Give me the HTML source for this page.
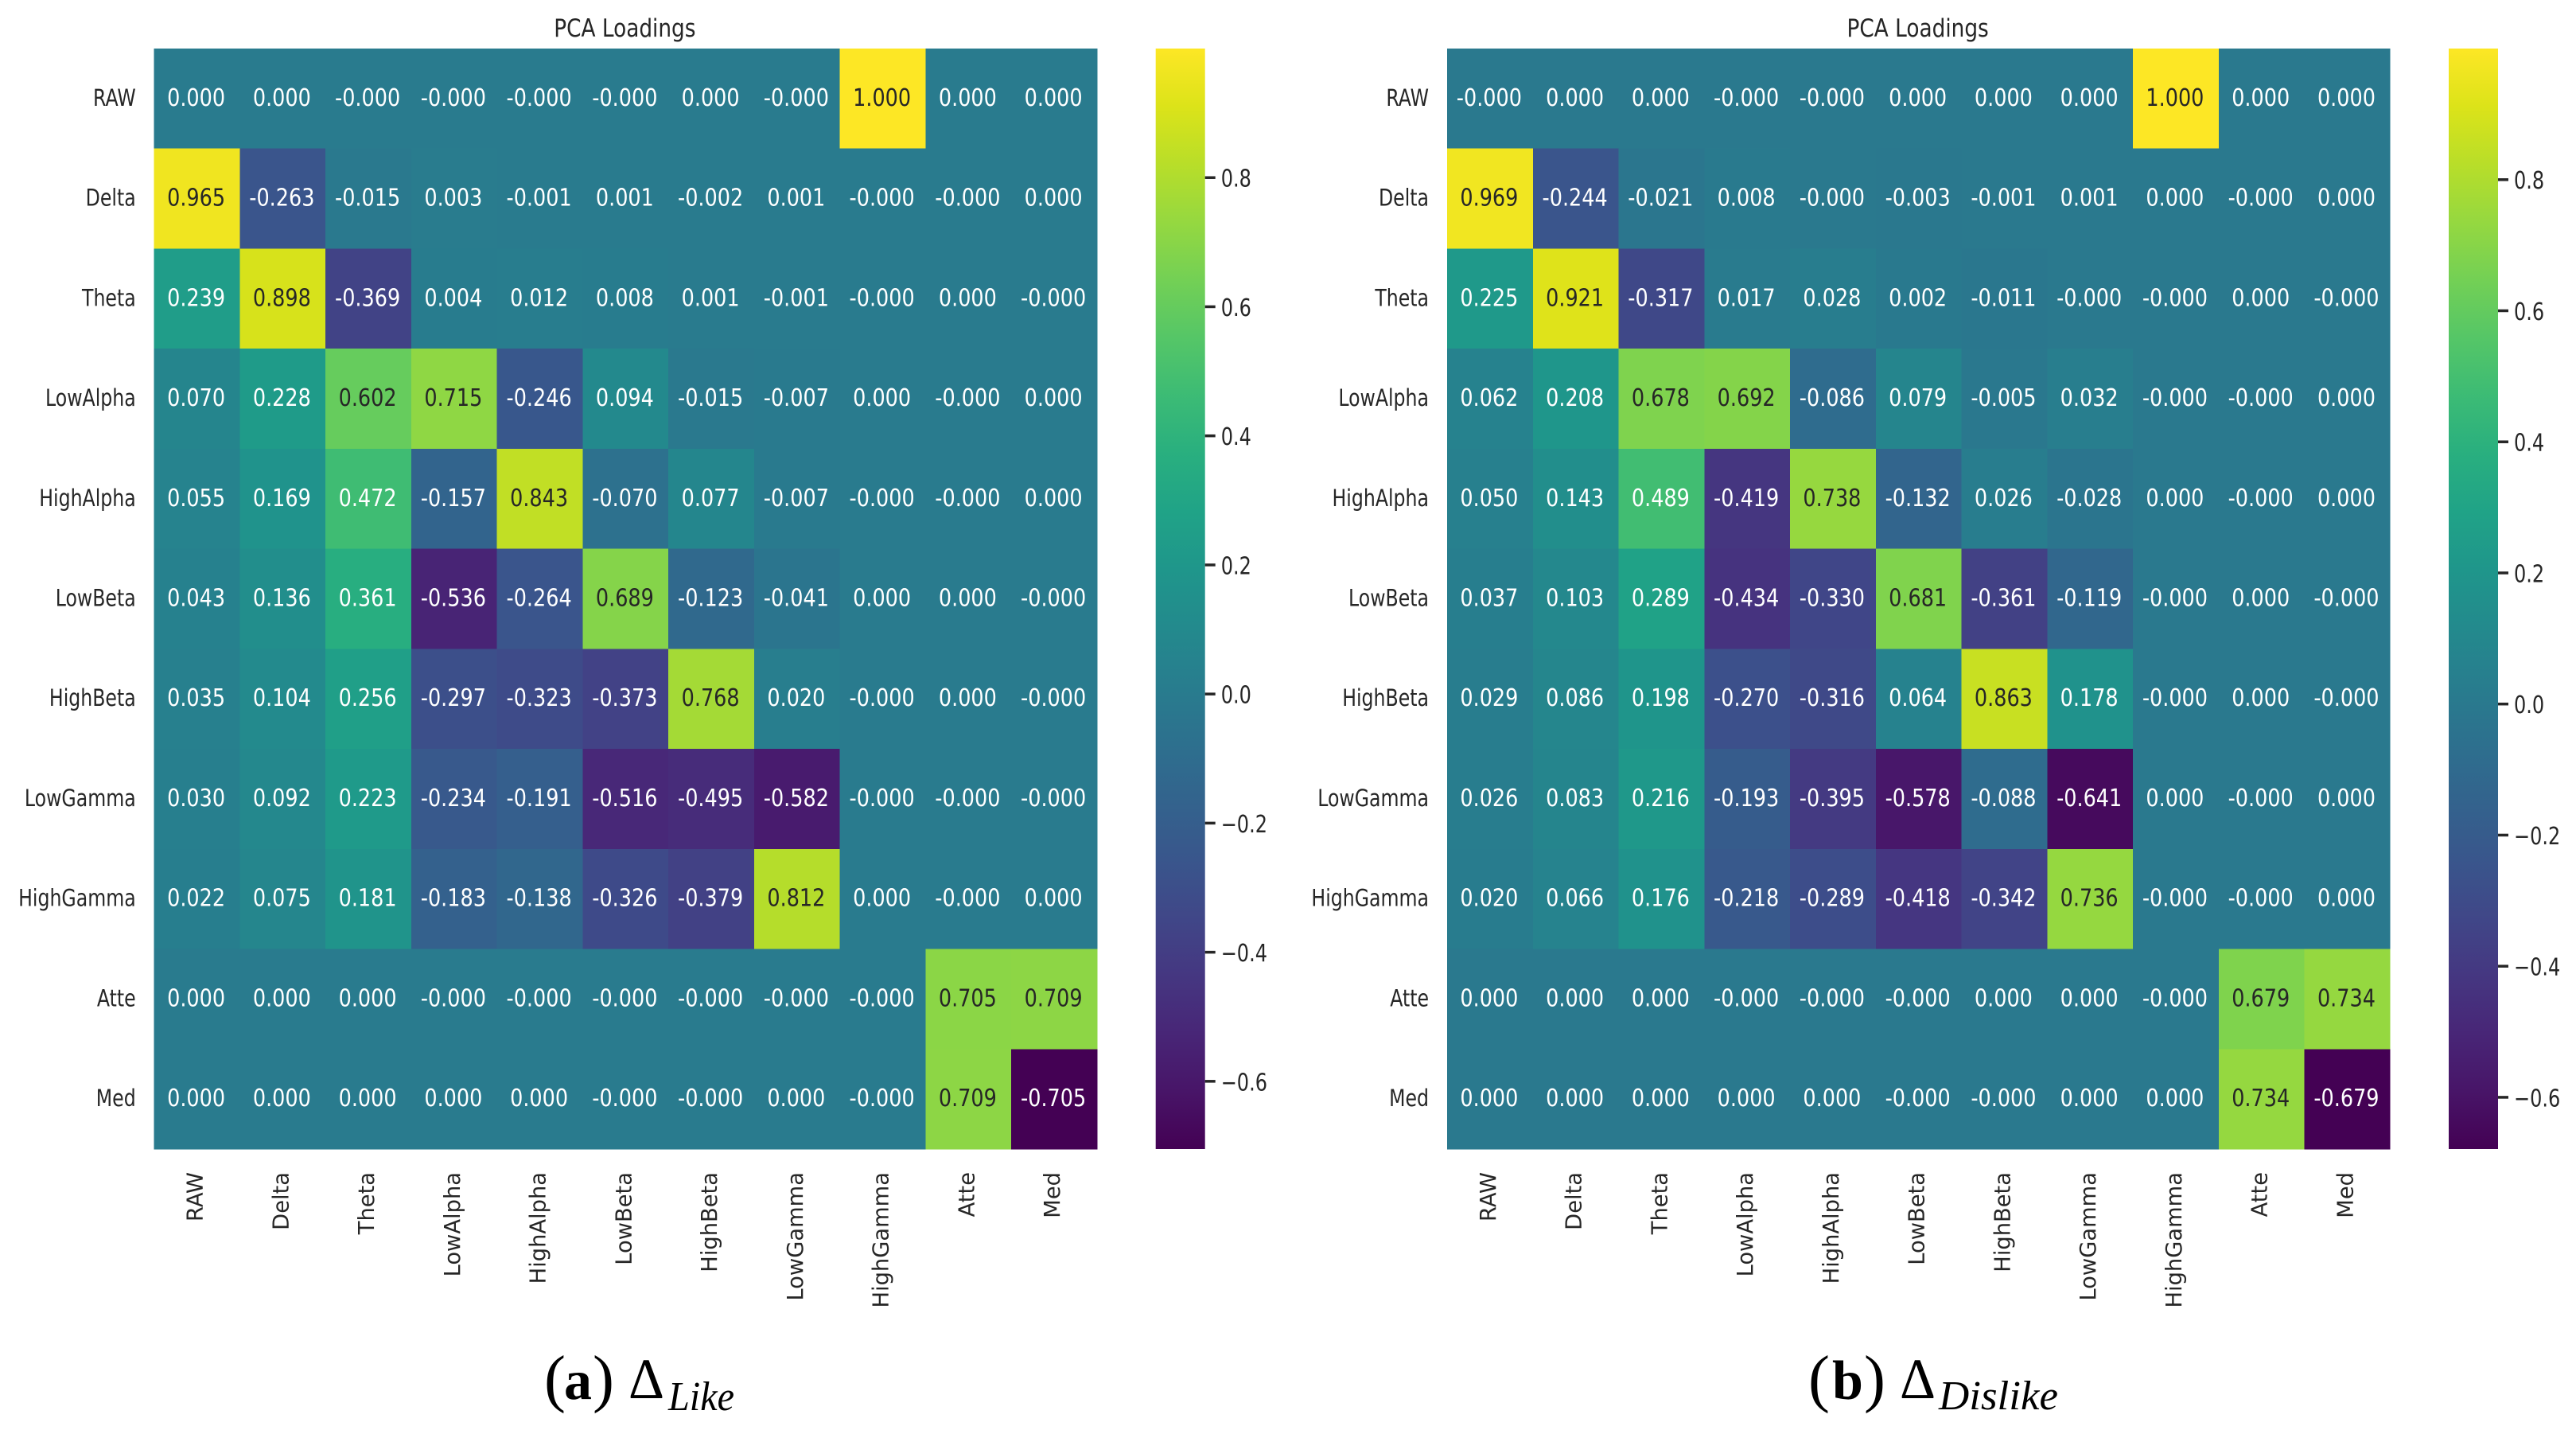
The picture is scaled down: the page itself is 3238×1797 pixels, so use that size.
<!DOCTYPE html>
<html lang="en">
<head>
<meta charset="utf-8">
<title>PCA Loadings heatmaps</title>
<style>
html,body{margin:0;padding:0;background:#fff;}
body{width:3238px;height:1797px;overflow:hidden;}
svg{display:block;}
text{font-family:"DejaVu Sans","Liberation Sans",sans-serif;}
.cap{font-family:"Liberation Serif",serif;fill:#000;}
</style>
</head>
<body>
<svg id="figure" xmlns="http://www.w3.org/2000/svg" width="3238" height="1797" viewBox="0 0 3238 1797">
  <rect x="0" y="0" width="3238" height="1797" fill="#ffffff"/>
  <defs id="gradients"></defs>
  <g id="panel-like"></g>
  <g id="panel-dislike"></g>
  <g>
    <text class="cap" x="684" y="1759" font-size="81">(</text>
    <text class="cap" x="709" y="1758" font-size="70" font-weight="bold">a</text>
    <text class="cap" x="745" y="1759" font-size="81">)</text>
    <text class="cap" x="790" y="1757" font-size="72" textLength="45" lengthAdjust="spacingAndGlyphs">Δ</text>
    <text class="cap" x="840" y="1772" font-size="52" font-style="italic" textLength="83" lengthAdjust="spacingAndGlyphs">Like</text>
  </g>
  <g>
    <text class="cap" x="2273" y="1759" font-size="81">(</text>
    <text class="cap" x="2303" y="1758" font-size="70" font-weight="bold">b</text>
    <text class="cap" x="2343" y="1759" font-size="81">)</text>
    <text class="cap" x="2388" y="1757" font-size="72" textLength="45" lengthAdjust="spacingAndGlyphs">Δ</text>
    <text class="cap" x="2437" y="1771" font-size="52" font-style="italic" textLength="150" lengthAdjust="spacingAndGlyphs">Dislike</text>
  </g>
</svg>
<script>
const features = ["RAW","Delta","Theta","LowAlpha","HighAlpha","LowBeta","HighBeta","LowGamma","HighGamma","Atte","Med"];
const colorbarTicks = [-0.6,-0.4,-0.2,0.0,0.2,0.4,0.6,0.8];

const likeRaw       = [0.0001,0.0001,-0.0001,-0.0001,-0.0001,-0.0001,0.0001,-0.0001,1.000,0.0001,0.0001];
const likeDelta     = [0.965,-0.263,-0.015,0.003,-0.001,0.001,-0.002,0.001,-0.0001,-0.0001,0.0001];
const likeTheta     = [0.239,0.898,-0.369,0.004,0.012,0.008,0.001,-0.001,-0.0001,0.0001,-0.0001];
const likeLowAlpha  = [0.070,0.228,0.602,0.715,-0.246,0.094,-0.015,-0.007,0.0001,-0.0001,0.0001];
const likeHighAlpha = [0.055,0.169,0.472,-0.157,0.843,-0.070,0.077,-0.007,-0.0001,-0.0001,0.0001];
const likeLowBeta   = [0.043,0.136,0.361,-0.536,-0.264,0.689,-0.123,-0.041,0.0001,0.0001,-0.0001];
const likeHighBeta  = [0.035,0.104,0.256,-0.297,-0.323,-0.373,0.768,0.020,-0.0001,0.0001,-0.0001];
const likeLowGamma  = [0.030,0.092,0.223,-0.234,-0.191,-0.516,-0.495,-0.582,-0.0001,-0.0001,-0.0001];
const likeHighGamma = [0.022,0.075,0.181,-0.183,-0.138,-0.326,-0.379,0.812,0.0001,-0.0001,0.0001];
const likeAtte      = [0.0001,0.0001,0.0001,-0.0001,-0.0001,-0.0001,-0.0001,-0.0001,-0.0001,0.705,0.709];
const likeMed       = [0.0001,0.0001,0.0001,0.0001,0.0001,-0.0001,-0.0001,0.0001,-0.0001,0.709,-0.705];

const dislikeRaw       = [-0.0001,0.0001,0.0001,-0.0001,-0.0001,0.0001,0.0001,0.0001,1.000,0.0001,0.0001];
const dislikeDelta     = [0.969,-0.244,-0.021,0.008,-0.0001,-0.003,-0.001,0.001,0.0001,-0.0001,0.0001];
const dislikeTheta     = [0.225,0.921,-0.317,0.017,0.028,0.002,-0.011,-0.0001,-0.0001,0.0001,-0.0001];
const dislikeLowAlpha  = [0.062,0.208,0.678,0.692,-0.086,0.079,-0.005,0.032,-0.0001,-0.0001,0.0001];
const dislikeHighAlpha = [0.050,0.143,0.489,-0.419,0.738,-0.132,0.026,-0.028,0.0001,-0.0001,0.0001];
const dislikeLowBeta   = [0.037,0.103,0.289,-0.434,-0.330,0.681,-0.361,-0.119,-0.0001,0.0001,-0.0001];
const dislikeHighBeta  = [0.029,0.086,0.198,-0.270,-0.316,0.064,0.863,0.178,-0.0001,0.0001,-0.0001];
const dislikeLowGamma  = [0.026,0.083,0.216,-0.193,-0.395,-0.578,-0.088,-0.641,0.0001,-0.0001,0.0001];
const dislikeHighGamma = [0.020,0.066,0.176,-0.218,-0.289,-0.418,-0.342,0.736,-0.0001,-0.0001,0.0001];
const dislikeAtte      = [0.0001,0.0001,0.0001,-0.0001,-0.0001,-0.0001,0.0001,0.0001,-0.0001,0.679,0.734];
const dislikeMed       = [0.0001,0.0001,0.0001,0.0001,0.0001,-0.0001,-0.0001,0.0001,0.0001,0.734,-0.679];

const likeRows = [likeRaw,likeDelta,likeTheta,likeLowAlpha,likeHighAlpha,likeLowBeta,likeHighBeta,likeLowGamma,likeHighGamma,likeAtte,likeMed];
const dislikeRows = [dislikeRaw,dislikeDelta,dislikeTheta,dislikeLowAlpha,dislikeHighAlpha,dislikeLowBeta,dislikeHighBeta,dislikeLowGamma,dislikeHighGamma,dislikeAtte,dislikeMed];

const viridis = ["#440154","#481568","#482677","#453781","#404788","#39568C","#33638D","#2D708E","#287D8E","#238A8D","#1F968B","#20A387","#29AF7F","#3CBB75","#55C667","#73D055","#95D840","#B8DE29","#DCE319","#FDE725"];

const SVG_NS = "http://www.w3.org/2000/svg";
const DARK = "#262626";

function hexRgb(h){
  return [parseInt(h.slice(1,3),16),parseInt(h.slice(3,5),16),parseInt(h.slice(5,7),16)];
}
function viridisRgb(t){
  const c = Math.max(0,Math.min(1,t))*(viridis.length-1);
  const i = Math.min(viridis.length-2,Math.floor(c));
  const f = c-i;
  const a = hexRgb(viridis[i]);
  const b = hexRgb(viridis[i+1]);
  return [0,1,2].map(function(k){return a[k]+(b[k]-a[k])*f;});
}
function luminance(rgb){
  const lin = rgb.map(function(v){
    const c = v/255;
    return c<=0.03928 ? c/12.92 : Math.pow((c+0.055)/1.055,2.4);
  });
  return 0.2126*lin[0]+0.7152*lin[1]+0.0722*lin[2];
}
function node(tag,parent){
  const el = document.createElementNS(SVG_NS,tag);
  parent.appendChild(el);
  return el;
}
function slug(s){
  return s.toLowerCase();
}

function drawPanel(group,prefix,rows,geo){
  const flat = [].concat.apply([],rows);
  const vmin = Math.min.apply(null,flat);
  const vmax = Math.max.apply(null,flat);
  const bandW = (geo.right-geo.left)/features.length;
  const bandH = (geo.bottom-geo.top)/rows.length;
  const xBand = function(i){return geo.left+i*bandW;};
  const yBand = function(j){return geo.top+j*bandH;};
  const norm = function(v){return (v-vmin)/(vmax-vmin);};
  const barY = function(v){return geo.bottom-norm(v)*(geo.bottom-geo.top);};

  const title = node("text",group);
  
  
  title.setAttribute("transform","translate("+((geo.left+geo.right)/2-1)+",46) scale(0.85,1)");
  title.setAttribute("text-anchor","middle");
  title.setAttribute("font-size","31");
  title.setAttribute("fill",DARK);
  title.textContent = "PCA Loadings";

  const cells = node("g",group);
  
  
  rows.forEach(function(row,j){
    row.forEach(function(value,i){
      const rgb = viridisRgb(norm(value));
      const rect = node("rect",cells);
      
      
      rect.setAttribute("x",xBand(i));
      rect.setAttribute("y",yBand(j));
      rect.setAttribute("width",bandW+0.4);
      rect.setAttribute("height",bandH+0.4);
      rect.setAttribute("shape-rendering","crispEdges");
      rect.setAttribute("fill","rgb("+rgb.map(Math.round).join(",")+")");
    });
  });

  const notes = node("g",group);
  
  
  rows.forEach(function(row,j){
    row.forEach(function(value,i){
      const rgb = viridisRgb(norm(value));
      const label = node("text",notes);
      
      
      label.setAttribute("transform","translate("+(xBand(i)+bandW/2-1)+","+(yBand(j)+bandH/2+9)+") scale(0.85,1)");
      label.setAttribute("text-anchor","middle");
      label.setAttribute("font-size","30");
      label.setAttribute("fill",luminance(rgb)>0.408?DARK:"#ffffff");
      label.textContent = value.toFixed(3);
    });
  });

  const yAxis = node("g",group);
  
  
  features.forEach(function(name,j){
    const label = node("text",yAxis);
    
    
    label.setAttribute("transform","translate("+(geo.left-23)+","+(yBand(j)+bandH/2+9)+") scale(0.815,1)");
    label.setAttribute("text-anchor","end");
    label.setAttribute("font-size","29");
    label.setAttribute("fill",DARK);
    label.textContent = name;
  });

  const xAxis = node("g",group);
  
  
  features.forEach(function(name,i){
    const label = node("text",xAxis);
    
    
    label.setAttribute("transform","translate("+(xBand(i)+bandW/2+7)+",1473) rotate(-90)");
    label.setAttribute("text-anchor","end");
    label.setAttribute("font-size","27.3");
    label.setAttribute("fill",DARK);
    label.textContent = name;
  });

  const grad = node("linearGradient",document.getElementById("gradients"));
  grad.setAttribute("id",prefix+"-gradient");
  grad.setAttribute("x1","0");
  grad.setAttribute("y1","1");
  grad.setAttribute("x2","0");
  grad.setAttribute("y2","0");
  viridis.forEach(function(color,k){
    const stop = node("stop",grad);
    stop.setAttribute("offset",k/(viridis.length-1));
    stop.setAttribute("stop-color",color);
  });

  const bar = node("g",group);
  
  
  const barRect = node("rect",bar);
  
  
  barRect.setAttribute("x",geo.barLeft);
  barRect.setAttribute("y",geo.top);
  barRect.setAttribute("width",geo.barRight-geo.barLeft);
  barRect.setAttribute("height",geo.bottom-geo.top);
  barRect.setAttribute("fill","url(#"+prefix+"-gradient)");
  colorbarTicks.forEach(function(tick){
    const mark = node("line",bar);
    
    
    mark.setAttribute("x1",geo.barRight);
    mark.setAttribute("x2",geo.barRight+13);
    mark.setAttribute("y1",barY(tick));
    mark.setAttribute("y2",barY(tick));
    mark.setAttribute("stroke",DARK);
    mark.setAttribute("stroke-width","3.5");
    const text = node("text",bar);
    
    
    text.setAttribute("transform","translate("+(geo.barRight+20)+","+(barY(tick)+11.5)+") scale(0.8,1)");
    text.setAttribute("font-size","30");
    text.setAttribute("fill",DARK);
    text.textContent = tick.toFixed(1).replace("-","\u2212");
  });
}

drawPanel(document.getElementById("panel-like"),"like",likeRows,{left:193.7,right:1379,top:61,bottom:1444,barLeft:1452.7,barRight:1514.7});
drawPanel(document.getElementById("panel-dislike"),"dislike",dislikeRows,{left:1819,right:3004.3,top:61,bottom:1444,barLeft:3078,barRight:3140});
</script>
</body>
</html>
